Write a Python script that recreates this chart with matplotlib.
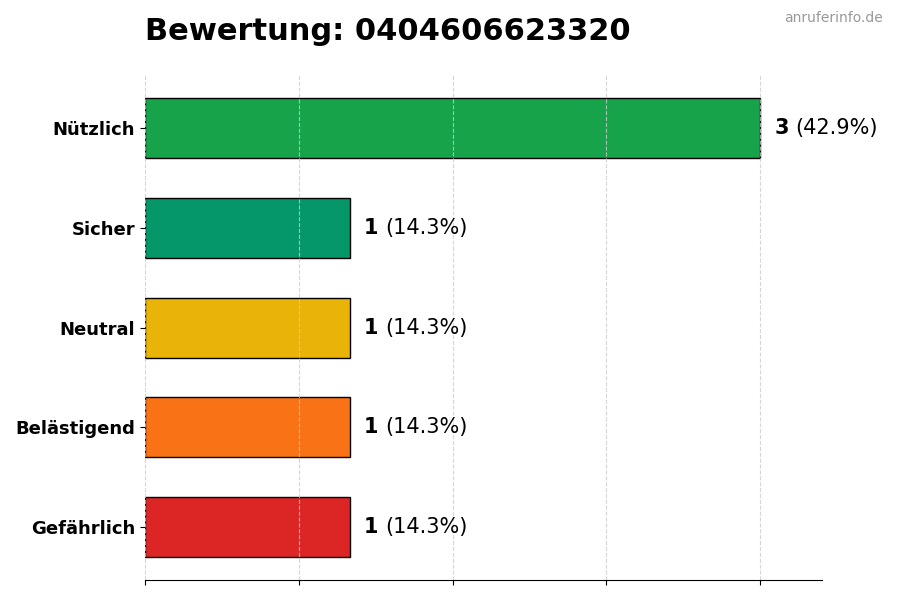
import matplotlib
matplotlib.use("Agg")
import matplotlib.pyplot as plt

categories = ["Gefährlich", "Belästigend", "Neutral", "Sicher", "Nützlich"]
counts = [1, 1, 1, 1, 3]
colors = ["#dc2626", "#f97316", "#eab308", "#059669", "#16a34a"]
title = "Bewertung: 0404606623320"
watermark = "anruferinfo.de"

total = sum(counts)

fig = plt.figure(figsize=(9, 6), dpi=100)
ax = fig.add_axes([0.161, 0.033, 0.752, 0.842])

y = list(range(len(categories)))
ax.barh(y, counts, height=0.6, color=colors, edgecolor="black", linewidth=1)
ax.set_yticks(y)
ax.set_yticklabels(categories, fontsize=13, fontweight="bold")
ax.set_xlim(0, max(counts) * 1.1)
ax.set_xticks([0, 0.75, 1.5, 2.25, 3.0])
ax.set_xticklabels([])
ax.grid(axis="x", linestyle="--", color="#cccccc", alpha=0.8, linewidth=0.8)
for s in ["top", "right", "left"]:
    ax.spines[s].set_visible(False)

for yi, c in zip(y, counts):
    t1 = ax.annotate(str(c), xy=(c, yi), xytext=(14, 0), textcoords="offset pixels",
                     va="center", ha="left", fontsize=15, fontweight="bold")
    ax.annotate(f"({c / total * 100:.1f}%)", xy=(1, 0.5), xycoords=t1,
                xytext=(7, 0), textcoords="offset pixels",
                va="center", ha="left", fontsize=15)

ax.set_title(title, loc="left", fontsize=22, fontweight="bold", pad=25)
fig.text(0.981, 0.982, watermark, ha="right", va="top", fontsize=10, color="#999999")

fig.savefig("out.png", dpi=100)
